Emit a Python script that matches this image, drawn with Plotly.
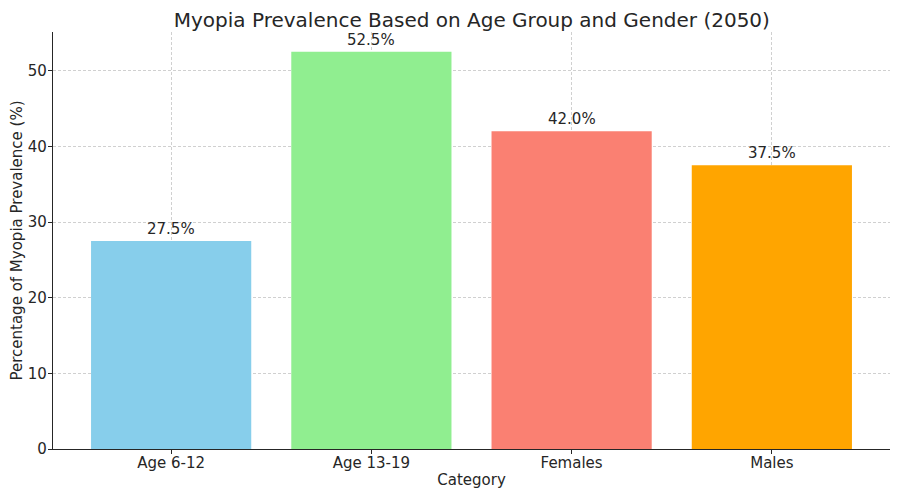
import plotly.graph_objects as go

# =============================================================================
# DATA
# =============================================================================
CATEGORIES = ["Age 6-12", "Age 13-19", "Females", "Males"]
PREVALENCE = [27.5, 52.5, 42.0, 37.5]
BAR_COLORS = ["#87CEEB", "#90EE90", "#FA8072", "#FFA500"]
Y_TICKS = [0, 10, 20, 30, 40, 50]

TITLE = "Myopia Prevalence Based on Age Group and Gender (2050)"
X_TITLE = "Category"
Y_TITLE = "Percentage of Myopia Prevalence (%)"

FONT = "DejaVu Sans, Liberation Sans, sans-serif"
GRID = "rgba(176,176,176,0.6)"
INK = "#262626"

# =============================================================================
# CHART
# =============================================================================
fig = go.Figure()

fig.add_trace(go.Bar(
    x=list(range(len(CATEGORIES))),
    y=PREVALENCE,
    width=0.8,
    marker=dict(color=BAR_COLORS, line=dict(width=0)),
    hoverinfo="x+y",
))

# value labels above each bar (matplotlib-style offset)
for i, v in enumerate(PREVALENCE):
    fig.add_annotation(
        x=i, y=v, text=f"{v:.1f}%",
        showarrow=False, yanchor="bottom", yshift=1,
        font=dict(size=15, color=INK, family=FONT),
    )

# page body adds an 8px margin, so the figure is sized to fit the window
fig.update_layout(
    width=892,
    height=489,
    margin=dict(l=45, r=10, t=24, b=48),
    paper_bgcolor="white",
    plot_bgcolor="white",
    font=dict(family=FONT, size=15, color=INK),
    showlegend=False,
    title=dict(
        text=TITLE,
        x=0.52,
        xanchor="center",
        y=0.976,
        yanchor="middle",
        font=dict(size=20, color=INK),
    ),
    xaxis=dict(
        range=[-0.59, 3.59],
        tickmode="array",
        tickvals=list(range(len(CATEGORIES))),
        ticktext=CATEGORIES,
        showgrid=True,
        gridcolor=GRID,
        griddash="3px,2px",
        gridwidth=1,
        showline=True,
        linecolor=INK,
        linewidth=1.2,
        ticks="outside",
        ticklen=4,
        tickcolor=INK,
        ticklabelstandoff=-4,
        zeroline=False,
        automargin=False,
        title=dict(text=X_TITLE, standoff=3, font=dict(size=15)),
    ),
    yaxis=dict(
        range=[0, 55.125],
        tickmode="array",
        tickvals=Y_TICKS,
        showgrid=True,
        gridcolor=GRID,
        griddash="3px,2px",
        gridwidth=1,
        showline=True,
        linecolor=INK,
        linewidth=1.2,
        ticks="outside",
        ticklen=4,
        tickcolor=INK,
        ticklabelstandoff=-2,
        zeroline=False,
        automargin=False,
        title=dict(text=Y_TITLE, standoff=6, font=dict(size=15)),
    ),
)

fig.write_html("out.html")
